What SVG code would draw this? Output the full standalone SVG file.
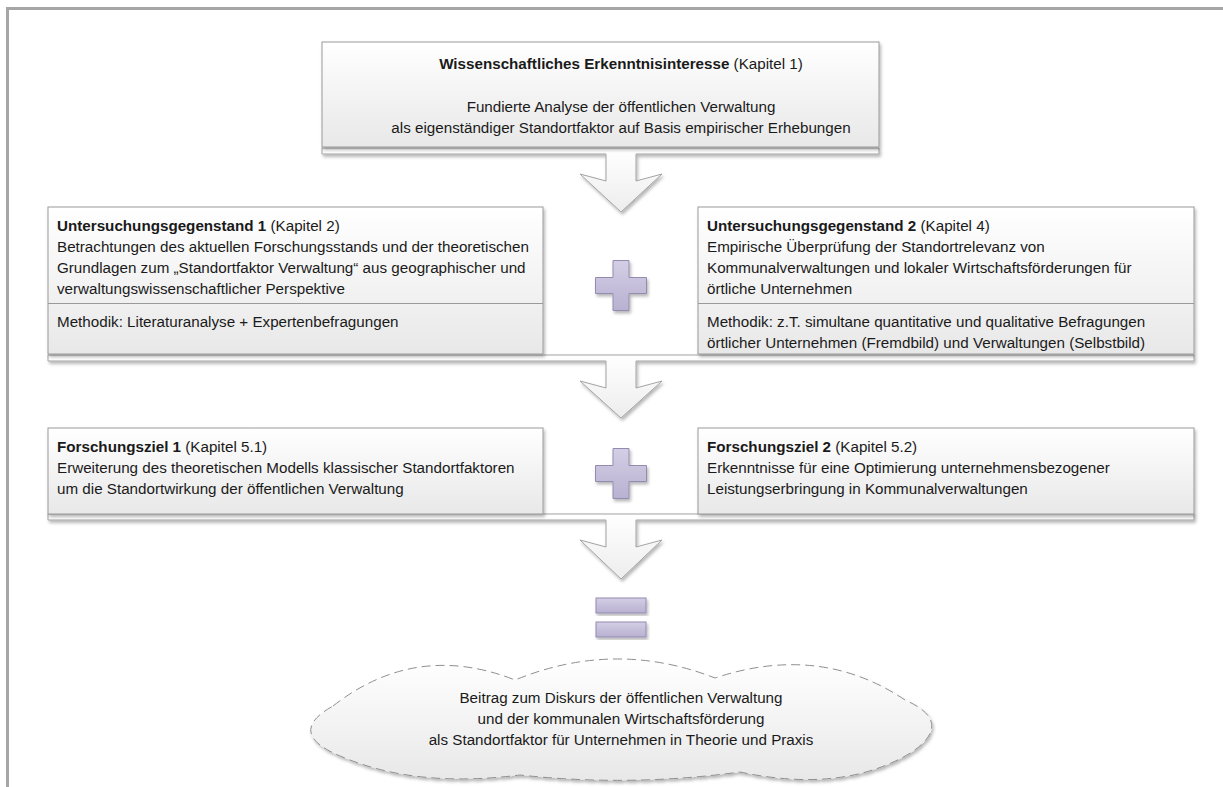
<svg xmlns="http://www.w3.org/2000/svg" width="1223" height="787" viewBox="0 0 1223 787">
  <defs>
    <linearGradient id="boxFill" x1="0" y1="0" x2="0" y2="1">
      <stop offset="0" stop-color="#ffffff"/>
      <stop offset="1" stop-color="#e8e8e8"/>
    </linearGradient>
    <linearGradient id="arrowFill" x1="0" y1="0" x2="0" y2="1">
      <stop offset="0" stop-color="#ffffff"/>
      <stop offset="1" stop-color="#ededed"/>
    </linearGradient>
    <linearGradient id="opFill" x1="0" y1="0" x2="0" y2="1">
      <stop offset="0" stop-color="#d4cee5"/>
      <stop offset="1" stop-color="#b9b1d1"/>
    </linearGradient>
    <filter id="shadow" x="-5%" y="-10%" width="112%" height="130%">
      <feDropShadow dx="1.5" dy="2.5" stdDeviation="1.6" flood-color="#000000" flood-opacity="0.28"/>
    </filter>
  </defs>
  <style>
    .frame { stroke: #a6a6a6; stroke-width: 3; fill: none; }
    .box { fill: url(#boxFill); stroke: #9a9a9a; stroke-width: 1; filter: url(#shadow); }
    .divider { stroke: #9a9a9a; stroke-width: 1; }
    .arrow { fill: url(#arrowFill); stroke: #a3a3a3; stroke-width: 1; stroke-linejoin: miter; filter: url(#shadow); }
    .op { fill: url(#opFill); stroke: #948cb0; stroke-width: 1; filter: url(#shadow); }
    .cloud { fill: url(#boxFill); stroke: #8f8f8f; stroke-width: 1; stroke-dasharray: 9 5; filter: url(#shadow); }
    text { font-family: "Liberation Sans", Arial, sans-serif; font-size: 15.2px; fill: #1a1a1a; }
    .c { text-anchor: middle; }
    .b { font-weight: bold; }
  </style>

  <rect width="1223" height="787" fill="#ffffff"/>

  <!-- page frame -->
  <path class="frame" d="M 7.5 787 V 8.5 H 1223"/>

  <!-- block arrows between the rows -->
  <g id="connectors">
    <path class="arrow" d="M 322 148 H 879 V 154 H 636 V 181 L 662 174 L 621 212 L 580 174 L 606 181 V 154 H 322 Z"/>
    <path class="arrow" d="M 48 355 H 1194 V 361 H 636 V 388 L 662 381 L 621 418 L 580 381 L 606 388 V 361 H 48 Z"/>
    <path class="arrow" d="M 48 514 H 1194 V 520 H 636 V 547 L 662 540 L 621 579 L 580 540 L 606 547 V 520 H 48 Z"/>
  </g>

  <!-- plus and equals signs -->
  <g id="operators">
    <path class="op" d="M 613 260.5 H 629 V 277.5 H 646.5 V 293.5 H 629 V 310.5 H 613 V 293.5 H 595.5 V 277.5 H 613 Z"/>
    <path class="op" d="M 613 448.5 H 629 V 465.5 H 646.5 V 481.5 H 629 V 498.5 H 613 V 481.5 H 595.5 V 465.5 H 613 Z"/>
    <rect class="op" x="596" y="598" width="50" height="15"/>
    <rect class="op" x="596" y="622" width="50" height="15"/>
  </g>

  <g id="node-erkenntnisinteresse">
    <rect class="box" x="322" y="42" width="557" height="105"/>
    <text class="c" x="621" y="69"><tspan class="b">Wissenschaftliches Erkenntnisinteresse</tspan> (Kapitel 1)</text>
    <text class="c" x="621" y="112">Fundierte Analyse der öffentlichen Verwaltung</text>
    <text class="c" x="621" y="133">als eigenständiger Standortfaktor auf Basis empirischer Erhebungen</text>
  </g>

  <g id="node-untersuchungsgegenstand-1">
    <rect class="box" x="48" y="207" width="495" height="147"/>
    <line class="divider" x1="48" y1="303.5" x2="543" y2="303.5"/>
    <text x="57" y="231"><tspan class="b">Untersuchungsgegenstand 1</tspan> (Kapitel 2)</text>
    <text x="57" y="252">Betrachtungen des aktuellen Forschungsstands und der theoretischen</text>
    <text x="57" y="273">Grundlagen zum „Standortfaktor Verwaltung“ aus geographischer und</text>
    <text x="57" y="294">verwaltungswissenschaftlicher Perspektive</text>
    <text x="57" y="327">Methodik: Literaturanalyse + Expertenbefragungen</text>
  </g>

  <g id="node-untersuchungsgegenstand-2">
    <rect class="box" x="698" y="207" width="496" height="147"/>
    <line class="divider" x1="698" y1="303.5" x2="1194" y2="303.5"/>
    <text x="707" y="231"><tspan class="b">Untersuchungsgegenstand 2</tspan> (Kapitel 4)</text>
    <text x="707" y="252">Empirische Überprüfung der Standortrelevanz von</text>
    <text x="707" y="273">Kommunalverwaltungen und lokaler Wirtschaftsförderungen für</text>
    <text x="707" y="294">örtliche Unternehmen</text>
    <text x="707" y="327">Methodik: z.T. simultane quantitative und qualitative Befragungen</text>
    <text x="707" y="348">örtlicher Unternehmen (Fremdbild) und Verwaltungen (Selbstbild)</text>
  </g>

  <g id="node-forschungsziel-1">
    <rect class="box" x="48" y="428" width="495" height="86"/>
    <text x="57" y="452"><tspan class="b">Forschungsziel 1</tspan> (Kapitel 5.1)</text>
    <text x="57" y="473">Erweiterung des theoretischen Modells klassischer Standortfaktoren</text>
    <text x="57" y="494">um die Standortwirkung der öffentlichen Verwaltung</text>
  </g>

  <g id="node-forschungsziel-2">
    <rect class="box" x="698" y="428" width="496" height="86"/>
    <text x="707" y="452"><tspan class="b">Forschungsziel 2</tspan> (Kapitel 5.2)</text>
    <text x="707" y="473">Erkenntnisse für eine Optimierung unternehmensbezogener</text>
    <text x="707" y="494">Leistungserbringung in Kommunalverwaltungen</text>
  </g>

  <g id="node-beitrag">
    <path class="cloud" d="M 333 706 Q 416 641 515 680 Q 615 639 715 678 Q 820 643 905 700 Q 955 722 912 752 Q 844 794 740 772 Q 630 787 520 775 Q 418 788 345 758 Q 283 734 333 706 Z"/>
    <text class="c" x="621" y="703">Beitrag zum Diskurs der öffentlichen Verwaltung</text>
    <text class="c" x="621" y="724">und der kommunalen Wirtschaftsförderung</text>
    <text class="c" x="621" y="745">als Standortfaktor für Unternehmen in Theorie und Praxis</text>
  </g>
</svg>
